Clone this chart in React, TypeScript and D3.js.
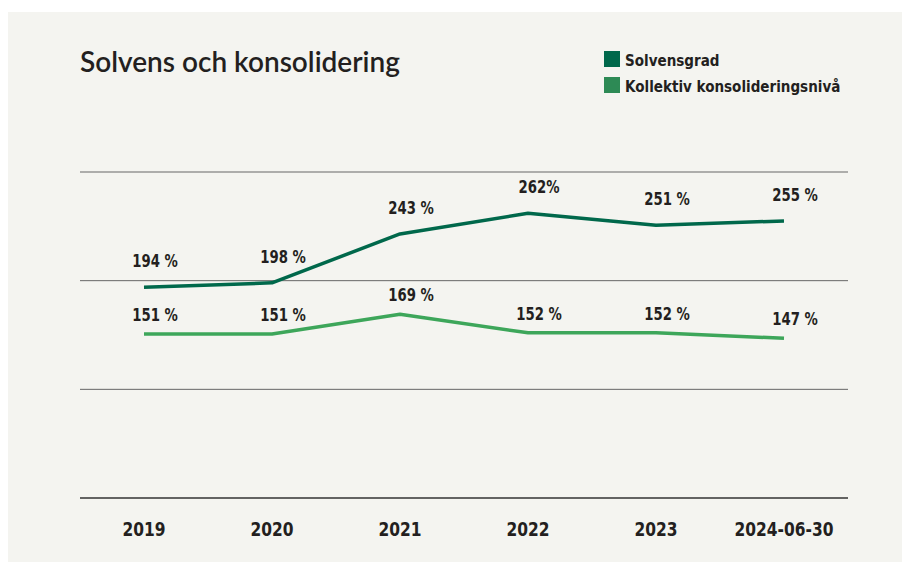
import React from "react";
import * as d3 from "d3";

const categories = ["2019", "2020", "2021", "2022", "2023", "2024-06-30"];
const solvensgrad = [194, 198, 243, 262, 251, 255];
const konsolidering = [151, 151, 169, 152, 152, 147];
const solvensLabels = ["194 %", "198 %", "243 %", "262%", "251 %", "255 %"];
const konsLabels = ["151 %", "151 %", "169 %", "152 %", "152 %", "147 %"];
const gridTicks = [0, 100, 200, 300];
const legendItems = ["Solvensgrad", "Kollektiv konsolideringsnivå"];

const W = 902;
const H = 562;
const condensed = "'DejaVu Sans Condensed', 'DejaVu Sans', sans-serif";
const DARK = "#00684b";
const LIGHT = "#3da65a";
const LEGEND_LIGHT = "#2d8a55";
const INK = "#231f20";

function CText({
  x,
  y,
  sx,
  size,
  anchor,
  children,
}: {
  x: number;
  y: number;
  sx: number;
  size: number;
  anchor: "start" | "middle" | "end";
  children: React.ReactNode;
}) {
  return (
    <g transform={`translate(${x},${y}) scale(${sx},1)`}>
      <text
        x={0}
        y={0}
        textAnchor={anchor}
        fontFamily={condensed}
        fontWeight={700}
        fontSize={size}
        fill={INK}
      >
        {children}
      </text>
    </g>
  );
}

export default function App() {
  const x = d3.scaleBand<string>().domain(categories).range([80, 848]);
  const y = d3.scaleLinear().domain([0, 300]).range([498, 172]);
  const cx = (c: string) => (x(c) as number) + x.bandwidth() / 2;
  const line = d3
    .line<number>()
    .x((_, i) => cx(categories[i]))
    .y((d) => y(d));

  return (
    <svg width={W} height={H} style={{ position: "absolute", left: 0, top: 0 }}>
      <rect x={0} y={0} width={W} height={H} fill="#ffffff" />
      <rect x={8} y={12} width={W - 8} height={H - 12} fill="#f4f4f0" />
      <text
        x={80}
        y={72}
        fontFamily="Lato, 'Open Sans', sans-serif"
        fontSize={28}
        fontWeight={600}
        fill={INK}
      >
        Solvens och konsolidering
      </text>
      {legendItems.map((t, i) => (
        <g key={t} transform={`translate(604, ${51 + i * 26})`}>
          <rect width={16} height={16} fill={i === 0 ? DARK : LEGEND_LIGHT} />
          <CText x={21} y={15} sx={0.94} size={16} anchor="start">
            {t}
          </CText>
        </g>
      ))}
      {gridTicks.map((t) => (
        <line
          key={t}
          x1={80}
          x2={848}
          y1={y(t)}
          y2={y(t)}
          stroke={t === 0 ? "#333" : "#666"}
          strokeWidth={t === 0 ? 1.5 : 1}
        />
      ))}
      <path d={line(konsolidering) || ""} fill="none" stroke={LIGHT} strokeWidth={3.5} strokeLinejoin="round" />
      <path d={line(solvensgrad) || ""} fill="none" stroke={DARK} strokeWidth={3.5} strokeLinejoin="round" />
      {solvensgrad.map((v, i) => (
        <CText key={"s" + i} x={cx(categories[i]) + 11} y={y(v) - 20} sx={0.82} size={18} anchor="middle">
          {solvensLabels[i]}
        </CText>
      ))}
      {konsolidering.map((v, i) => (
        <CText key={"k" + i} x={cx(categories[i]) + 11} y={y(v) - 13} sx={0.82} size={18} anchor="middle">
          {konsLabels[i]}
        </CText>
      ))}
      {categories.map((c) => (
        <CText key={c} x={cx(c)} y={536} sx={0.86} size={20} anchor="middle">
          {c}
        </CText>
      ))}
    </svg>
  );
}
